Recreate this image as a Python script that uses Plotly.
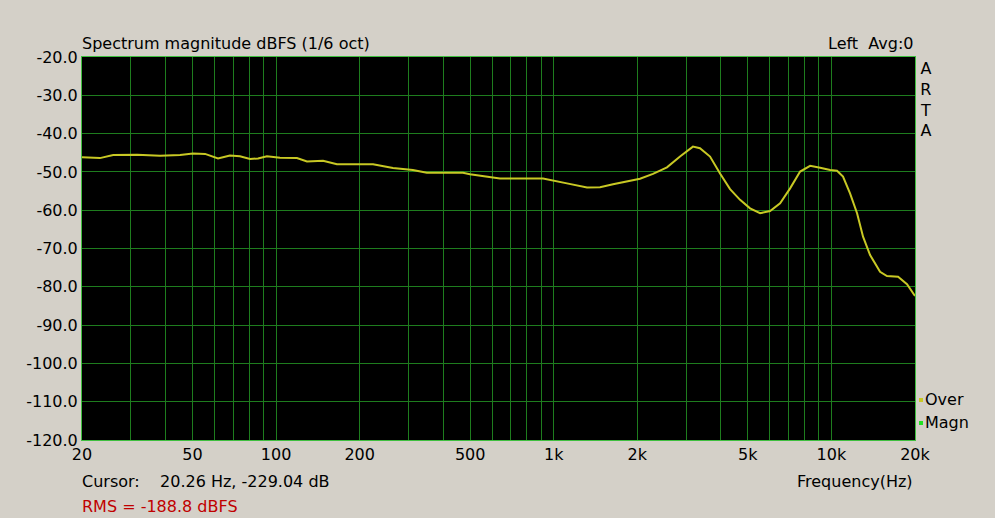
import plotly.graph_objects as go

# Frequency response (Hz) and magnitude (dBFS)
freq = [20, 23.2, 25.9, 31.6, 38.2, 45.1, 50.2, 55.5, 61.8, 68.2, 74.1, 80.6, 86.1, 92.7,
        103.3, 118.9, 129.2, 147.6, 165.7, 195.6, 205.6, 223.4, 263.6, 311, 349, 471, 499,
        625, 640, 915, 993, 1116, 1318, 1468, 1635, 1836, 2045, 2277, 2557, 2850, 3172,
        3362, 3655, 3971, 4315, 4688, 5094, 5535, 6014, 6535, 7100, 7715, 8383, 9108,
        9896, 10475, 11010, 11670, 12370, 13000, 13780, 14970, 15850, 17380, 18720, 20000]
mag = [-46.2, -46.4, -45.6, -45.5, -45.8, -45.6, -45.2, -45.3, -46.5, -45.7, -45.9, -46.6,
       -46.5, -45.9, -46.3, -46.4, -47.3, -47.1, -48.0, -48.0, -47.9, -48.0, -49.0, -49.5,
       -50.2, -50.2, -50.6, -51.5, -51.7, -51.7, -52.3, -53.0, -54.1, -54.0, -53.2, -52.4,
       -51.8, -50.5, -48.8, -46.0, -43.4, -43.8, -46.0, -50.4, -54.5, -57.3, -59.5, -60.8,
       -60.2, -58.2, -54.3, -49.9, -48.4, -48.9, -49.5, -49.7, -51.2, -55.6, -60.8, -66.9,
       -71.7, -76.1, -77.2, -77.4, -79.3, -82.4]

# grid positions (every 1-9 step per decade) and their labels
x_tickvals = [20, 30, 40, 50, 60, 70, 80, 90, 100, 200, 300, 400, 500, 600, 700, 800, 900,
              1000, 2000, 3000, 4000, 5000, 6000, 7000, 8000, 9000, 10000, 20000]
x_ticktext = ["20", "", "", "50", "", "", "", "", "100", "200", "", "", "500", "", "", "", "",
              "1k", "2k", "", "", "5k", "", "", "", "", "10k", "20k"]
y_tickvals = [-20, -30, -40, -50, -60, -70, -80, -90, -100, -110, -120]
y_ticktext = ["-20.0", "-30.0", "-40.0", "-50.0", "-60.0", "-70.0", "-80.0", "-90.0",
              "-100.0", "-110.0", "-120.0"]

BG = "#d4d0c8"
GRID = "#1e7d1e"
FONT = "DejaVu Sans, Arial, sans-serif"
FS = 16

fig = go.Figure()
fig.add_trace(go.Scatter(x=freq, y=mag, mode="lines", name="Over",
                         line=dict(color="#c8c824", width=2), hoverinfo="x+y"))

fig.update_layout(
    width=995, height=518,
    margin=dict(l=82, r=80, t=57, b=78),
    paper_bgcolor=BG, plot_bgcolor="black",
    showlegend=False,
    font=dict(family=FONT, size=FS, color="black"),
)
fig.update_xaxes(
    type="log", range=[1.30103, 4.30103],
    tickvals=x_tickvals, ticktext=x_ticktext, ticks="",
    showgrid=True, gridcolor=GRID, gridwidth=1,
    showline=True, linecolor="#3fbf3f", linewidth=1, mirror=True,
    zeroline=False, tickfont=dict(size=FS, family=FONT),
)
fig.update_yaxes(
    range=[-120, -20], tickvals=y_tickvals, ticktext=y_ticktext, ticks="",
    showgrid=True, gridcolor=GRID, gridwidth=1,
    showline=True, linecolor="#3fbf3f", linewidth=1, mirror=True,
    zeroline=False, tickfont=dict(size=FS, family=FONT),
)

def ann(text, x, y, xanchor="left", color="black", size=FS, align="left"):
    fig.add_annotation(text=text, x=x, y=y, xref="paper", yref="paper",
                       xanchor=xanchor, yanchor="middle", showarrow=False,
                       font=dict(family=FONT, size=size, color=color), align=align)

ph = 383.0
def py(ypix):
    return (440 - ypix) / ph

ann("Spectrum magnitude dBFS (1/6 oct)", -0.002, py(43))
ann("Left  Avg:0", 1.0, py(43), xanchor="right")
ann("A<br>R<br>T<br>A", 1.004, py(99), align="center")
ann("Over", 1.0095, py(399))
ann("Magn", 1.0095, py(422))
ann("Cursor:    20.26 Hz, -229.04 dB", -0.002, py(481))
ann("Frequency(Hz)", 1.0, py(481), xanchor="right")
ann("RMS = -188.8 dBFS", -0.003, py(506), color="#c00000")

# small legend swatches
for ypix, col in [(400, "#c8c824"), (423, "#22e022")]:
    fig.add_shape(type="rect", xref="paper", yref="paper",
                  x0=(919 - 82) / 833.0, x1=(923 - 82) / 833.0,
                  y0=py(ypix + 2), y1=py(ypix - 2),
                  fillcolor=col, line=dict(width=0))

fig.write_html("out.html", config={"displayModeBar": False},
               post_script="document.body.style.margin='0px';")
